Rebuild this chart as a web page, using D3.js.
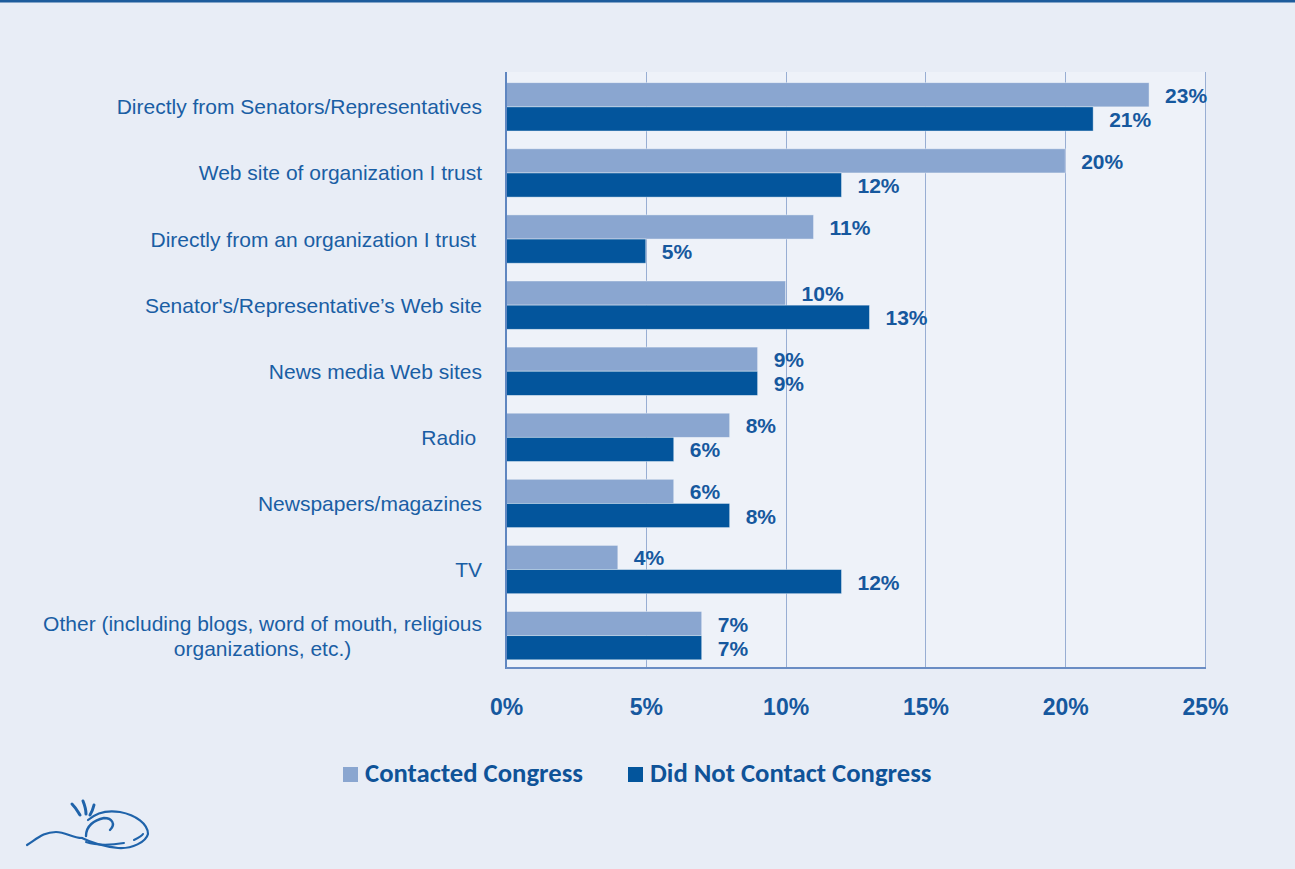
<!DOCTYPE html>
<html>
<head>
<meta charset="utf-8">
<script src="https://cdn.jsdelivr.net/npm/d3@7/dist/d3.min.js"></script>
<style>
  html, body { margin: 0; padding: 0; background: #e8edf6; }
  svg { display: block; }
  text { white-space: pre; }
</style>
</head>
<body>
<svg id="chart" width="1295" height="869"></svg>
<script>
// ---- data ----
const categories = [
  "Directly from Senators/Representatives",
  "Web site of organization I trust",
  "Directly from an organization I trust ",
  "Senator's/Representative\u2019s Web site",
  "News media Web sites",
  "Radio ",
  "Newspapers/magazines",
  "TV",
  "Other (including blogs, word of mouth, religious\norganizations, etc.)"
];
const contacted    = [23, 20, 11, 10, 9, 8, 6, 4, 7];
const notContacted = [21, 12, 5, 13, 9, 6, 8, 12, 7];
const seriesNames  = ["Contacted Congress", "Did Not Contact Congress"];
const xTicks       = [0, 5, 10, 15, 20, 25];

// ---- styling ----
const W = 1295, H = 869;
const colLight = "#8aa6d0", colDark = "#03559c";
const textCol = "#1a5ea4", valCol = "#16589e";
const plot = { left: 506, right: 1205, top: 72, bottom: 668 };

const svg = d3.select("#chart");
svg.append("rect").attr("width", W).attr("height", H).attr("fill", "#e8edf6");
svg.append("rect").attr("x", 0).attr("y", 0).attr("width", W).attr("height", 2.5).attr("fill", "#1d5c9c");

const x = d3.scaleLinear().domain([0, 25]).range([plot.left, plot.right]);
const y = d3.scaleBand().domain(categories).range([plot.top, plot.bottom])
  .paddingInner(0.269).paddingOuter(0.143).align(0.566);
const ySub = d3.scaleBand().domain([0, 1]).range([0, y.bandwidth()]);

// plot background
svg.append("rect").attr("x", plot.left).attr("y", plot.top)
  .attr("width", plot.right - plot.left).attr("height", plot.bottom - plot.top)
  .attr("fill", "#eef2f9");

// gridlines
svg.append("g").selectAll("line").data(xTicks.slice(1)).join("line")
  .attr("x1", d => Math.round(x(d)) + 0.5).attr("x2", d => Math.round(x(d)) + 0.5)
  .attr("y1", plot.top).attr("y2", plot.bottom)
  .attr("stroke", "#98aed3").attr("stroke-width", 1);

// bars
const rows = categories.map((c, i) => ({ cat: c, vals: [contacted[i], notContacted[i]] }));
const g = svg.append("g");
rows.forEach(r => {
  r.vals.forEach((v, s) => {
    const by = y(r.cat) + ySub(s);
    g.append("rect")
      .attr("x", x(0)).attr("y", by)
      .attr("width", x(v) - x(0)).attr("height", ySub.bandwidth())
      .attr("fill", s === 0 ? colLight : colDark)
      .attr("stroke", "#f4f7fc").attr("stroke-opacity", 0.55).attr("stroke-width", 0.8);
    g.append("text")
      .attr("x", x(v) + 16).attr("y", by + ySub.bandwidth() / 2 + 8)
      .attr("font-family", "Liberation Sans, Arial, sans-serif")
      .attr("font-weight", "bold").attr("font-size", 21)
      .attr("fill", valCol).text(v + "%");
  });
});

// axes lines
svg.append("line").attr("x1", plot.left).attr("x2", plot.left)
  .attr("y1", plot.top).attr("y2", plot.bottom + 1)
  .attr("stroke", "#5f86c0").attr("stroke-width", 2);
svg.append("line").attr("x1", plot.left).attr("x2", plot.right + 1)
  .attr("y1", plot.bottom).attr("y2", plot.bottom)
  .attr("stroke", "#6a8dc4").attr("stroke-width", 2);

// x tick labels
const xAxis = d3.axisBottom(x).tickValues(xTicks).tickFormat(d => d + "%").tickSize(0).tickPadding(0);
const xa = svg.append("g").attr("transform", `translate(0,${plot.bottom})`).call(xAxis);
xa.select(".domain").remove();
xa.selectAll("text")
  .attr("y", 47).attr("dy", null)
  .attr("font-family", "Liberation Sans, Arial, sans-serif")
  .attr("font-weight", "bold").attr("font-size", 23)
  .attr("fill", valCol);

// category labels
const labelRight = 482;
const lg = svg.append("g").attr("font-family", "Liberation Sans, Arial, sans-serif")
  .attr("font-size", 21).attr("fill", textCol);
categories.forEach(c => {
  const lines = c.split("\n");
  const cy = y(c) + y.bandwidth() / 2;
  const lh = 25;
  const t = lg.append("text");
  lines.forEach((ln, k) => {
    t.append("tspan").attr("y", cy + 7.5 + (k - (lines.length - 1) / 2) * lh).text(ln);
  });
  if (lines.length === 1) {
    t.attr("text-anchor", "end").selectAll("tspan").attr("x", labelRight);
  } else {
    const widths = t.selectAll("tspan").nodes().map(n => n.getComputedTextLength());
    const cx = labelRight - d3.max(widths) / 2;
    t.attr("text-anchor", "middle").selectAll("tspan").attr("x", cx);
  }
});

// legend
const legend = svg.append("g").attr("font-family", "Carlito, Lato, sans-serif")
  .attr("font-weight", "bold").attr("font-size", 26.7).attr("fill", "#0f5398");
const legX = [343, 628];
seriesNames.forEach((n, i) => {
  legend.append("rect").attr("x", legX[i]).attr("y", 767).attr("width", 15).attr("height", 15)
    .attr("fill", i === 0 ? colLight : colDark);
  legend.append("text").attr("x", legX[i] + 22).attr("y", 782).text(n);
});

// logo
const logo = svg.append("g").attr("fill", "none").attr("stroke", "#1f63aa")
  .attr("stroke-linecap", "round");
logo.append("path").attr("d", "M27,845 C38,838 44,832 56,832 C66,832 72,838 82,838")
  .attr("stroke-width", 2.2);
logo.append("path").attr("d", "M82,838 C90,842 100,846 118,848 C132,849 146,842 148,834 C148,824 136,815 120,812 C108,810 96,813 88,820")
  .attr("stroke-width", 2.2);
logo.append("path").attr("d", "M86,836 C86,826 94,820 104,818 C112,818 116,824 110,830")
  .attr("stroke-width", 2.4);
logo.append("path").attr("d", "M86,842 C98,846 112,845 124,843").attr("stroke-width", 2);
logo.append("path").attr("d", "M134,840 C138,838 142,836 143,834").attr("stroke-width", 2);
logo.append("path").attr("d", "M72,804 C76,808 78,812 80,815").attr("stroke-width", 3);
logo.append("path").attr("d", "M83,801 C85,806 86,811 86,814").attr("stroke-width", 3);
logo.append("path").attr("d", "M94,805 C93,809 92,812 90,815").attr("stroke-width", 3);
</script>
</body>
</html>
